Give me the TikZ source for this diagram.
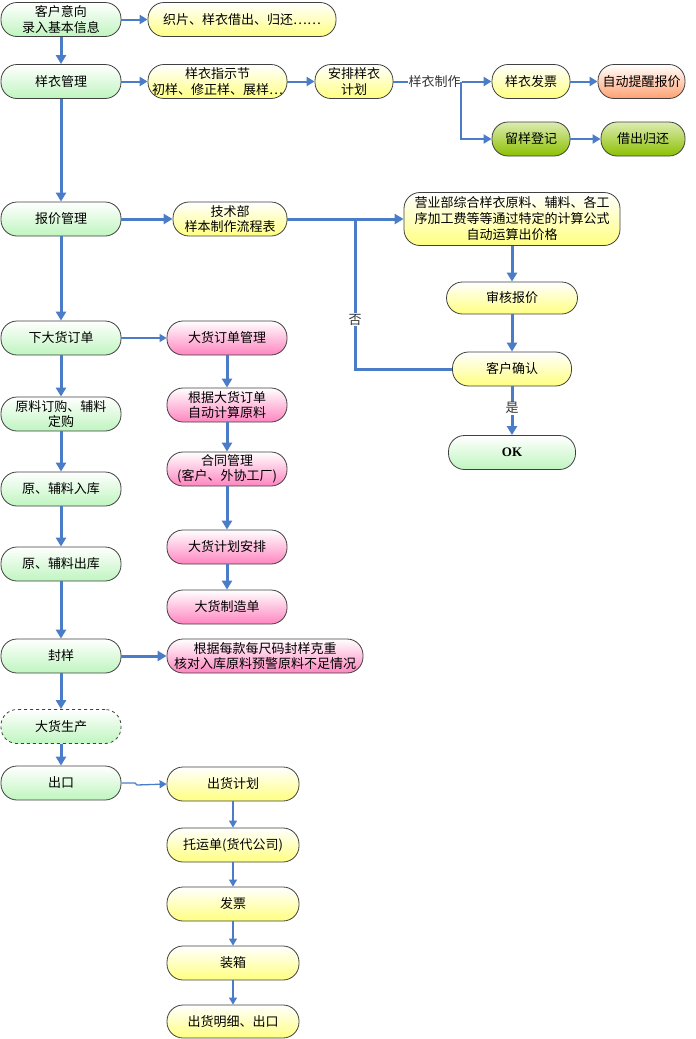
\documentclass[tikz,border=0pt]{standalone}
\usepackage{fontspec}
\setmainfont{Noto Sans CJK SC}
\newfontfamily\okfont{Liberation Serif}
\usetikzlibrary{arrows.meta}
\definecolor{lineblue}{HTML}{4A7CC7}
\definecolor{gbot}{HTML}{BFF5BF}
\definecolor{ybot}{HTML}{FFFF80}
\definecolor{pbot}{HTML}{FF85C0}
\definecolor{obot}{HTML}{FFA070}
\definecolor{dgbot}{HTML}{8CC000}
\definecolor{bordergray}{HTML}{404040}
\tikzset{
  box/.style={rounded corners=16pt, draw=bordergray, line width=0.8pt, align=center,
     inner sep=0pt, minimum height=34pt, font=\fontsize{13}{15.5}\selectfont},
  gbox/.style={box, top color=white, bottom color=gbot, minimum width=120pt},
  ybox/.style={box, top color=white, bottom color=ybot},
  pbox/.style={box, top color=white, bottom color=pbot},
  obox/.style={box, top color=white, bottom color=obot},
  dgbox/.style={box, top color=white!70!dgbot, bottom color=dgbot},
  thick arrow/.style={draw=lineblue, line width=3pt, -{Triangle[length=9pt,width=10pt]}},
  mid arrow/.style={draw=lineblue, line width=2pt, -{Triangle[length=8pt,width=9pt]}},
  thin arrow/.style={draw=lineblue, line width=1.3pt, -{Triangle[length=7pt,width=8pt]}},
  thick line/.style={draw=lineblue, line width=3pt},
  lbl/.style={fill=white, inner sep=1pt, font=\fontsize{13}{15}\selectfont, text=black!80}
}
\begin{document}
\begin{tikzpicture}[x=1pt,y=-1pt]
\useasboundingbox (0,0) rectangle (696,1039);
% left column
\node[gbox] (n1) at (61,19.5) {客户意向\\录入基本信息};
\node[gbox] (n2) at (61,81.5) {样衣管理};
\node[gbox] (n3) at (61,219) {报价管理};
\node[gbox] (n4) at (61,338) {下大货订单};
\node[gbox] (n5) at (61,414) {原料订购、辅料\\定购};
\node[gbox] (n6) at (61,489) {原、辅料入库};
\node[gbox] (n7) at (61,564) {原、辅料出库};
\node[gbox] (n8) at (61,656) {封样};
\node[gbox, dashed] (n9) at (61,726.5) {大货生产};
\node[gbox] (n10) at (61,783) {出口};
% top rows
\node[ybox, minimum width=188pt] (a1) at (242,19.5) {织片、样衣借出、归还……};
\node[ybox, minimum width=139pt] (a2) at (217.5,81.5) {样衣指示节\\初样、修正样、展样…};
\node[ybox, minimum width=78pt] (a3) at (354,81.5) {安排样衣\\计划};
\node[ybox, minimum width=78pt] (a4) at (531,81.5) {样衣发票};
\node[obox, minimum width=87pt] (a5) at (641.5,81.5) {自动提醒报价};
\node[dgbox, minimum width=78pt] (a6) at (531,139) {留样登记};
\node[dgbox, minimum width=84pt] (a7) at (643,139) {借出归还};
% quotation
\node[ybox, minimum width=114pt] (b1) at (230,219) {技术部\\样本制作流程表};
\node[ybox, minimum width=216pt, minimum height=53pt, font=\fontsize{13}{16}\selectfont] (b2) at (512,219) {营业部综合样衣原料、辅料、各工\\序加工费等等通过特定的计算公式\\自动运算出价格};
\node[ybox, minimum width=131pt, minimum height=32pt] (b3) at (512,298) {审核报价};
\node[ybox, minimum width=119pt] (b4) at (512,369) {客户确认};
\node[gbox, minimum width=127pt] (b5) at (512,452.5) {\okfont\bfseries OK};
% pink column
\node[pbox, minimum width=120pt] (p1) at (227,338) {大货订单管理};
\node[pbox, minimum width=120pt] (p2) at (227,405) {根据大货订单\\自动计算原料};
\node[pbox, minimum width=120pt] (p3) at (227,469) {合同管理\\(客户、外协工厂)};
\node[pbox, minimum width=120pt] (p4) at (227,547) {大货计划安排};
\node[pbox, minimum width=120pt] (p5) at (227,607) {大货制造单};
\node[pbox, minimum width=196pt] (p6) at (265,656) {根据每款每尺码封样克重\\核对入库原料预警原料不足情况};
% shipping column
\node[ybox, minimum width=132pt] (y1) at (233,784) {出货计划};
\node[ybox, minimum width=132pt] (y2) at (233,845) {托运单(货代公司)};
\node[ybox, minimum width=132pt] (y3) at (233,904) {发票};
\node[ybox, minimum width=132pt] (y4) at (233,963) {装箱};
\node[ybox, minimum width=132pt, minimum height=33pt] (y5) at (233,1021.5) {出货明细、出口};
% left column arrows
\draw[thick arrow] (n1) -- (n2);
\draw[thick arrow] (n2) -- (n3);
\draw[thick arrow] (n3) -- (n4);
\draw[thick arrow] (n4) -- (n5);
\draw[thick arrow] (n5) -- (n6);
\draw[thick arrow] (n6) -- (n7);
\draw[thick arrow] (n7) -- (n8);
\draw[thick arrow] (n8) -- (n9);
\draw[thick arrow] (n9) -- (n10);
% top arrows
\draw[mid arrow] (n1) -- (a1);
\draw[mid arrow] (n2) -- (a2);
\draw[mid arrow] (a2) -- (a3);
\coordinate (split) at (461,81.5);
\draw[mid arrow] (a3) -- node[lbl, pos=0.42] {样衣制作} (a4);
\draw[mid arrow] (split) |- (a6);
\draw[mid arrow] (a4) -- (a5);
\draw[mid arrow] (a6) -- (a7);
% quotation arrows
\draw[thick arrow] (n3) -- (b1);
\draw[thick arrow] (b1) -- (b2);
\draw[thick arrow] (b2) -- (b3);
\draw[thick arrow] (b3) -- (b4);
\coordinate (loopA) at (355,369);
\coordinate (loopB) at (355,219);
\draw[thick line] (b4.west) -- (loopA) -- node[lbl, pos=0.33] {否} (loopB);
\draw[thick arrow] (b4) -- node[lbl, pos=0.45] {是} (b5);
% pink arrows
\draw[thin arrow] (n4) -- (p1);
\draw[thick arrow] (p1) -- (p2);
\draw[thick arrow] (p2) -- (p3);
\draw[thick arrow] (p3) -- (p4);
\draw[thick arrow] (p4) -- (p5);
\draw[thick arrow] (n8) -- (p6);
% shipping arrows
\coordinate (j1) at (135,783);
\coordinate (j2) at (137,785);
\draw[thin arrow] (n10.east) -- (j1) -- (j2) -- (y1.west);
\draw[thin arrow] (y1) -- (y2);
\draw[thin arrow] (y2) -- (y3);
\draw[thin arrow] (y3) -- (y4);
\draw[thin arrow] (y4) -- (y5);
\end{tikzpicture}
\end{document}
